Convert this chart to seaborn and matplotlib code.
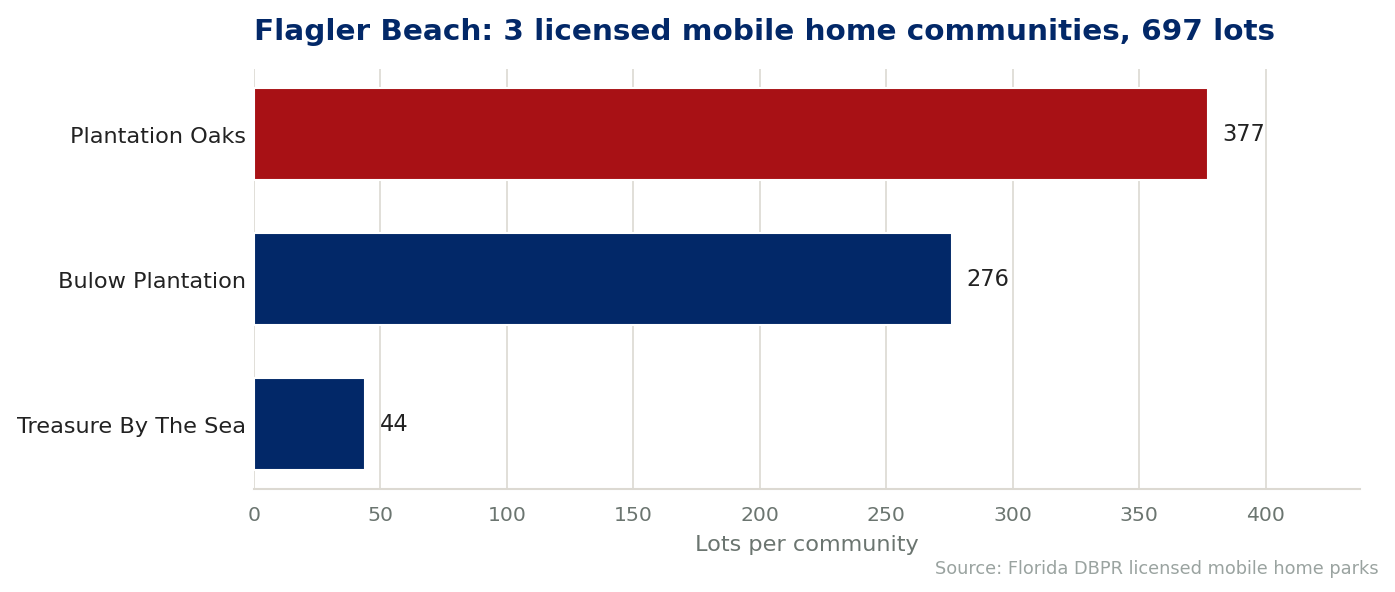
import matplotlib
matplotlib.use("Agg")
import matplotlib.pyplot as plt
import seaborn as sns
import pandas as pd

communities = ["Plantation Oaks", "Bulow Plantation", "Treasure By The Sea"]
lots = [377, 276, 44]
bar_colors = ["#a81115", "#022868", "#022868"]

title = "Flagler Beach: 3 licensed mobile home communities, 697 lots"
xlabel = "Lots per community"
source = "Source: Florida DBPR licensed mobile home parks"

NAVY = "#022868"
GRID = "#dcd9d2"
MUTED = "#6b7570"
BAR_H = 0.63

sns.set_style("white")
plt.rcParams["font.family"] = ["DejaVu Sans"]

df = pd.DataFrame({"community": communities, "lots": lots})

fig = plt.figure(figsize=(9.3, 3.953), dpi=150)
ax = fig.add_axes([0.182, 0.174, 0.793, 0.708])

sns.barplot(
    data=df, x="lots", y="community", hue="community", order=communities,
    palette=dict(zip(communities, bar_colors)), orient="h", width=BAR_H,
    legend=False, ax=ax, saturation=1,
)

for i, v in enumerate(lots):
    ax.annotate(f"{v}", xy=(v, i), xytext=(7, 0), textcoords="offset points",
                va="center", ha="left", fontsize=10.8, color="#222222")

# matplotlib-style 5% margins around the bars
span = len(lots) - 1 + BAR_H
pad = 0.05 * span
ax.set_ylim(len(lots) - 1 + BAR_H / 2 + pad, -BAR_H / 2 - pad)

ax.set_xlim(0, max(lots) * 1.16)
ax.set_xticks(range(0, 401, 50))
ax.grid(axis="x", color=GRID, linewidth=0.8)
ax.set_axisbelow(True)
for s in ["top", "right", "left"]:
    ax.spines[s].set_visible(False)
ax.spines["bottom"].set_color(GRID)
ax.spines["bottom"].set_linewidth(1.0)

ax.tick_params(axis="x", colors=MUTED, labelsize=9.8, length=3.5, width=0.7,
               pad=4.3, labelcolor=MUTED)
ax.tick_params(axis="y", length=0, pad=4, labelsize=10.75, labelcolor="#222222")

ax.set_ylabel("")
ax.set_xlabel(xlabel, fontsize=10.75, color=MUTED, labelpad=5)
ax.set_title(title, loc="left", fontsize=14.15, fontweight="bold", color=NAVY, pad=14.5)

fig.text(0.988, 0.032, source, ha="right", va="baseline", fontsize=8.5, color="#9aa3a0")

fig.savefig("out.png", dpi=150)
